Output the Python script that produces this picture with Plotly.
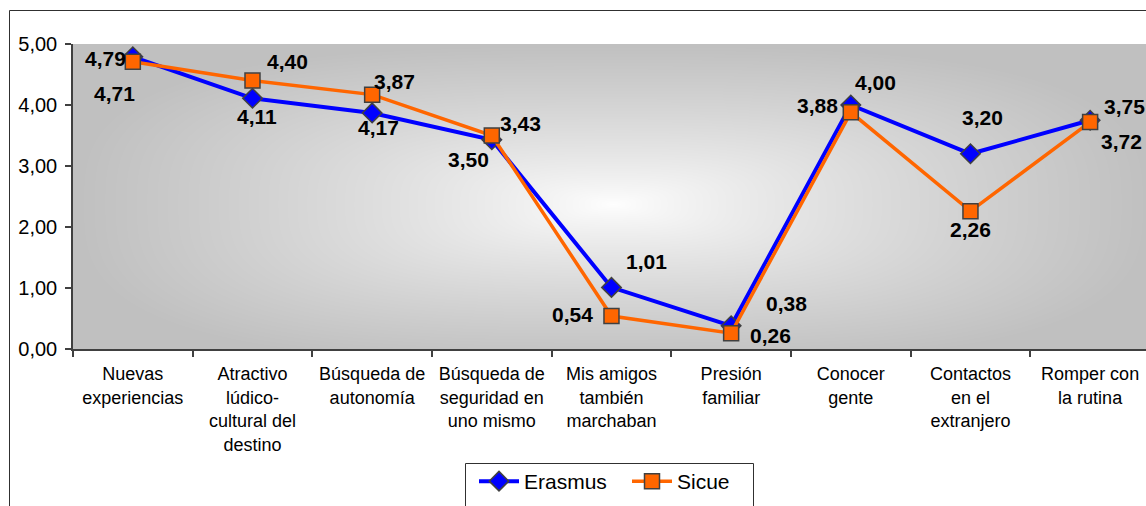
import base64
import struct
import zlib

import numpy as np
import plotly.graph_objects as go

# ---------------- data ----------------
categories = [
    "Nuevas<br>experiencias",
    "Atractivo<br>lúdico-<br>cultural del<br>destino",
    "Búsqueda de<br>autonomía",
    "Búsqueda de<br>seguridad en<br>uno mismo",
    "Mis amigos<br>también<br>marchaban",
    "Presión<br>familiar",
    "Conocer<br>gente",
    "Contactos<br>en el<br>extranjero",
    "Romper con<br>la rutina",
]
erasmus = [4.79, 4.11, 3.87, 3.43, 1.01, 0.38, 4.00, 3.20, 3.75]
sicue = [4.71, 4.40, 4.17, 3.50, 0.54, 0.26, 3.88, 2.26, 3.72]
y_ticks = [0, 1, 2, 3, 4, 5]

# ---------------- style ----------------
W, H = 1146, 506
L, T, B = 73, 44, 349          # plot area in pixels
PW, PH = W - L, B - T
FONT = "Liberation Sans, Arial, sans-serif"
BLUE = "#0000ff"
ORANGE = "#ff6600"
EDGE = "#404040"

# label offsets in pixels (dx right, dy down) for each point
erasmus_off = [(-27, 2), (5, 18), (22, -31), (29, -16), (35, -26),
               (55, -22), (25, -23), (12, -36), (34, -14)]
sicue_off = [(-18, 32), (35, -19), (6, 33), (-23, 24), (-39, -2),
             (39, 2), (-33, -7), (0, 18), (31, 19)]


def px(x):
    return (x - L) / PW


def py(y):
    return (B - y) / PH


# ---------------- background gradient (PNG built by hand) ----------------
def png_gray(arr):
    h, w = arr.shape
    raw = b"".join(b"\x00" + arr[i].tobytes() for i in range(h))

    def chunk(t, d):
        return (struct.pack(">I", len(d)) + t + d
                + struct.pack(">I", zlib.crc32(t + d) & 0xFFFFFFFF))

    return (b"\x89PNG\r\n\x1a\n"
            + chunk(b"IHDR", struct.pack(">IIBBBBB", w, h, 8, 0, 0, 0, 0))
            + chunk(b"IDAT", zlib.compress(raw, 9))
            + chunk(b"IEND", b""))


gw, gh = PW, PH
cx, cy = 540.0, 160.0
xx = np.arange(gw)[None, :]
yy = np.arange(gh)[:, None]
u = np.abs(xx - cx) / max(cx, gw - cx)
v = np.abs(yy - cy) / max(cy, gh - cy)
p = 3.0
t = np.clip((u ** p + v ** p) ** (1 / p), 0, 1) ** 0.8
img = (255 - (255 - 192) * t).astype(np.uint8)
src = "data:image/png;base64," + base64.b64encode(png_gray(img)).decode()

# ---------------- figure ----------------
fig = go.Figure()
fig.add_trace(go.Scatter(
    x=categories, y=erasmus, name="Erasmus", mode="lines+markers",
    line=dict(color=BLUE, width=4),
    marker=dict(symbol="diamond", size=15, color=BLUE,
                line=dict(color=EDGE, width=1.5)),
    cliponaxis=False,
))
fig.add_trace(go.Scatter(
    x=categories, y=sicue, name="Sicue", mode="lines+markers",
    line=dict(color=ORANGE, width=3.5),
    marker=dict(symbol="square", size=15, color=ORANGE,
                line=dict(color=EDGE, width=1.5)),
    cliponaxis=False,
))

annotations = []
for vals, offs in ((erasmus, erasmus_off), (sicue, sicue_off)):
    for cat, val, (dx, dy) in zip(categories, vals, offs):
        annotations.append(dict(
            x=cat, y=val, xref="x", yref="y",
            text=f"{val:.2f}".replace(".", ","),
            showarrow=False, xshift=dx, yshift=-dy,
            font=dict(family=FONT, size=21, color="black", weight="bold"),
        ))

shapes = [
    # outer chart border
    dict(type="rect", xref="paper", yref="paper",
         x0=px(9.5), y0=py(520), x1=px(1160), y1=py(10.5),
         line=dict(color="#303030", width=1), fillcolor="rgba(0,0,0,0)",
         layer="below"),
    # legend box
    dict(type="rect", xref="paper", yref="paper",
         x0=px(465.5), y0=py(520), x1=px(753.5), y1=py(463.5),
         line=dict(color="#303030", width=1), fillcolor="rgba(0,0,0,0)",
         layer="above"),
]

fig.update_layout(
    width=W, height=H,
    margin=dict(l=L, r=0, t=T, b=H - B, pad=0),
    paper_bgcolor="white",
    plot_bgcolor="#c0c0c0",
    separators=",.",
    font=dict(family=FONT, color="black"),
    showlegend=True,
    legend=dict(
        orientation="h", x=px(474), xanchor="left",
        y=py(461), yanchor="top",
        font=dict(family=FONT, size=21, color="black"),
        bgcolor="rgba(0,0,0,0)", borderwidth=0,
        itemwidth=40, tracegroupgap=0,
        entrywidth=98, entrywidthmode="pixels",
    ),
    images=[dict(
        source=src, xref="paper", yref="paper",
        x=0, y=1, sizex=1, sizey=1, sizing="stretch",
        xanchor="left", yanchor="top", layer="below",
    )],
    shapes=shapes,
    annotations=annotations,
)

fig.update_xaxes(
    type="category", range=[-0.5, 8.467],
    showgrid=False, zeroline=False,
    showline=True, linecolor=EDGE, linewidth=1.5,
    ticks="outside", tickson="boundaries", ticklen=6,
    tickcolor=EDGE, tickwidth=1.5,
    tickfont=dict(family=FONT, size=18, color="black"),
    ticklabelstandoff=8,
    fixedrange=True,
)
fig.update_yaxes(
    range=[0, 5], tickvals=y_ticks, tickformat=".2f",
    showgrid=False, zeroline=False,
    showline=True, linecolor=EDGE, linewidth=1.5,
    ticks="outside", ticklen=6, tickcolor=EDGE, tickwidth=1.5,
    tickfont=dict(family=FONT, size=20, color="black"),
    ticklabelstandoff=4,
    fixedrange=True,
)

fig.write_html(
    "out.html",
    config={"displayModeBar": False},
    post_script="document.body.style.margin='0';document.body.style.overflow='hidden';",
)
